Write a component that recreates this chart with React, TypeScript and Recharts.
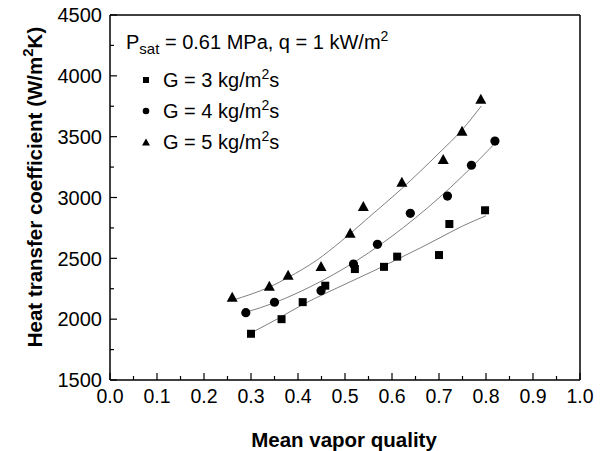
import { ComposedChart, Scatter, Line, XAxis, YAxis, ReferenceLine } from 'recharts';

const quality3 = [0.30, 0.365, 0.41, 0.458, 0.521, 0.583, 0.611, 0.70, 0.722, 0.798];
const htc3 = [1880, 2000, 2140, 2275, 2412, 2430, 2514, 2527, 2782, 2895];
const quality4 = [0.289, 0.35, 0.449, 0.518, 0.569, 0.639, 0.718, 0.769, 0.819];
const htc4 = [2053, 2139, 2234, 2453, 2615, 2870, 3012, 3265, 3464];
const quality5 = [0.26, 0.339, 0.379, 0.449, 0.511, 0.539, 0.621, 0.709, 0.749, 0.789];
const htc5 = [2185, 2275, 2366, 2437, 2711, 2930, 3130, 3316, 3549, 3812];

// fitted trend lines
const fitX3 = [0.30, 0.36, 0.41, 0.46, 0.51, 0.56, 0.61, 0.66, 0.70, 0.75, 0.80];
const fitY3 = [1887, 2010, 2120, 2215, 2305, 2395, 2490, 2585, 2665, 2765, 2850];
const fitX4 = [0.29, 0.35, 0.40, 0.45, 0.50, 0.55, 0.60, 0.65, 0.70, 0.75, 0.82];
const fitY4 = [2058, 2135, 2218, 2313, 2422, 2545, 2682, 2833, 2997, 3176, 3449];
const fitX5 = [0.26, 0.30, 0.34, 0.38, 0.44, 0.49, 0.55, 0.62, 0.70, 0.75, 0.79];
const fitY5 = [2155, 2205, 2265, 2345, 2485, 2635, 2835, 3070, 3365, 3560, 3752];

const xTicks = [0, 0.05, 0.1, 0.15, 0.2, 0.25, 0.3, 0.35, 0.4, 0.45, 0.5, 0.55, 0.6, 0.65, 0.7, 0.75, 0.8, 0.85, 0.9, 0.95, 1];
const yTicks = [1500, 1750, 2000, 2250, 2500, 2750, 3000, 3250, 3500, 3750, 4000, 4250, 4500];

const zip = (xs: number[], ys: number[]) => xs.map((x, i) => ({ x, y: ys[i] }));

const FONT = '"Liberation Sans", Arial, sans-serif';

function Square(props: any) {
  const { cx, cy, s = 8 } = props;
  return <rect x={cx - s / 2} y={cy - s / 2} width={s} height={s} fill="#000" />;
}
function Dot(props: any) {
  const { cx, cy, r = 4.6 } = props;
  return <circle cx={cx} cy={cy} r={r} fill="#000" />;
}
function Tri(props: any) {
  const { cx, cy, w = 11, h = 10 } = props;
  return <polygon points={`${cx},${cy - h / 2} ${cx + w / 2},${cy + h / 2} ${cx - w / 2},${cy + h / 2}`} fill="#000" />;
}

function XTick(props: any) {
  const { x, y, payload } = props;
  const v = payload.value;
  const major = Math.abs(v * 10 - Math.round(v * 10)) < 1e-6;
  return (
    <g>
      <line x1={x} x2={x} y1={y} y2={y - (major ? 7 : 4)} stroke="#000" strokeWidth={1.2} />
      {major && (
        <text x={x} y={y + 23} textAnchor="middle" fontFamily={FONT} fontSize={19.5} fill="#000">
          {v.toFixed(1)}
        </text>
      )}
    </g>
  );
}

function YTick(props: any) {
  const { x, y, payload } = props;
  const v = payload.value;
  const major = v % 500 === 0;
  return (
    <g>
      <line x1={x} x2={x + (major ? 7 : 4)} y1={y} y2={y} stroke="#000" strokeWidth={1.2} />
      {major && (
        <text x={x - 8} y={y} dy="0.36em" textAnchor="end" fontFamily={FONT} fontSize={20} fill="#000">
          {v}
        </text>
      )}
    </g>
  );
}

// legend drawn on top of the plot, top-left corner
function LegendBox() {
  const rows = [
    { label: '3', icon: <Square cx={146} cy={80} s={6} /> },
    { label: '4', icon: <Dot cx={146} cy={111} r={3.3} /> },
    { label: '5', icon: <Tri cx={146} cy={142} w={8} h={7} /> },
  ];
  return (
    <svg width={480} height={160} style={{ position: 'absolute', left: 0, top: 0, pointerEvents: 'none' }}>
      <text x={126} y={49} fontFamily={FONT} fontSize={20} fill="#000">
        P<tspan fontSize={15} dy={5}>sat</tspan>
        <tspan dy={-5}> = 0.61 MPa, q = 1 kW/m</tspan>
        <tspan fontSize={14} dy={-8}>2</tspan>
      </text>
      {rows.map((r, i) => (
        <g key={r.label}>
          {r.icon}
          <text x={163} y={87 + i * 31} fontFamily={FONT} fontSize={20} fill="#000">
            G = {r.label} kg/m<tspan fontSize={14} dy={-8}>2</tspan>
            <tspan dy={8}>s</tspan>
          </text>
        </g>
      ))}
    </svg>
  );
}

export default function App() {
  return (
    <div style={{ position: 'absolute', left: 0, top: 0, width: 608, height: 451, background: '#fff' }}>
      <ComposedChart width={608} height={451} margin={{ top: 15, right: 28, bottom: 0, left: 0 }}>
        <XAxis
          type="number"
          dataKey="x"
          domain={[0, 1]}
          ticks={xTicks}
          interval={0}
          height={71}
          tickSize={0}
          tickMargin={0}
          tickLine={false}
          axisLine={{ stroke: '#000', strokeWidth: 1.5 }}
          tick={<XTick />}
          label={{
            content: () => (
              <text x={344} y={447} textAnchor="middle" fontFamily={FONT} fontSize={20.5} fontWeight="bold" fill="#000">
                Mean vapor quality
              </text>
            ),
          }}
        />
        <YAxis
          type="number"
          dataKey="y"
          domain={[1500, 4500]}
          ticks={yTicks}
          interval={0}
          width={110}
          tickSize={0}
          tickMargin={0}
          tickLine={false}
          axisLine={{ stroke: '#000', strokeWidth: 1.5 }}
          tick={<YTick />}
          label={{
            content: () => (
              <text
                transform="translate(42,187) rotate(-90)"
                textAnchor="middle"
                fontFamily={FONT}
                fontSize={20.5}
                fontWeight="bold"
                fill="#000"
              >
                Heat transfer coefficient (W/m<tspan fontSize={15} dy={-9}>2</tspan>
                <tspan dy={9}>K)</tspan>
              </text>
            ),
          }}
        />
        <ReferenceLine x={1} stroke="#000" strokeWidth={1.5} />
        <ReferenceLine y={4500} stroke="#000" strokeWidth={1.5} />
        <Line data={zip(fitX3, fitY3)} dataKey="y" type="monotone" stroke="#808080" strokeWidth={1} dot={false} isAnimationActive={false} />
        <Line data={zip(fitX4, fitY4)} dataKey="y" type="monotone" stroke="#808080" strokeWidth={1} dot={false} isAnimationActive={false} />
        <Line data={zip(fitX5, fitY5)} dataKey="y" type="monotone" stroke="#808080" strokeWidth={1} dot={false} isAnimationActive={false} />
        <Scatter data={zip(quality3, htc3)} dataKey="y" shape={<Square />} isAnimationActive={false} />
        <Scatter data={zip(quality4, htc4)} dataKey="y" shape={<Dot />} isAnimationActive={false} />
        <Scatter data={zip(quality5, htc5)} dataKey="y" shape={<Tri />} isAnimationActive={false} />
      </ComposedChart>
      <LegendBox />
    </div>
  );
}
